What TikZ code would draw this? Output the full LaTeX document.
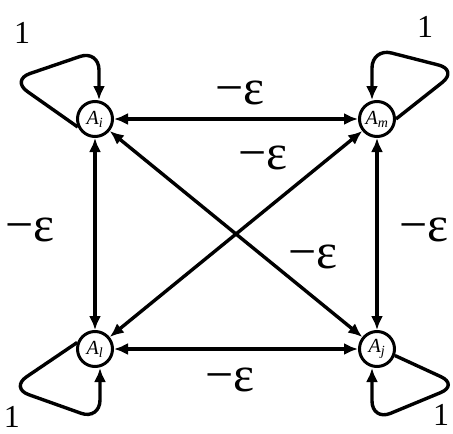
\documentclass[tikz,border=0pt]{standalone}
\usepackage{fontspec}
\setmainfont{Liberation Serif}
\usetikzlibrary{arrows.meta, positioning, calc}

\newcommand{\stat}[1]{\textit{A}\textsubscript{\textit{#1}}}

\begin{document}
\begin{tikzpicture}[
    x=1pt, y=-1pt,
    stato/.style={circle, draw, line width=3pt, fill=white,
                  inner sep=0pt, minimum size=35pt, font=\fontsize{20}{20}\selectfont},
    arco/.style={line width=3.4pt, {Latex[length=14pt,width=12pt]}-{Latex[length=14pt,width=12pt]}},
    anello/.style={line width=3.4pt, rounded corners=20pt, -{Latex[length=14pt,width=12pt]}},
    peso/.style={font=\fontsize{50}{50}\selectfont, inner sep=0pt},
    uno/.style={font=\fontsize{32}{32}\selectfont, inner sep=0pt}
]
\useasboundingbox (0,0) rectangle (453,434);
% stati
\node[stato] (Ai) at (95,119) {\stat{i}};
\node[stato] (Am) at (377,119) {\stat{m}};
\node[stato] (Al) at (95,349) {\stat{l}};
\node[stato] (Aj) at (377,349) {\stat{j}};
% archi tra gli stati
\foreach \a/\b in {Ai/Am, Al/Aj, Ai/Al, Am/Aj, Ai/Aj, Am/Al}{
    \draw[arco] (\a) -- (\b);
}
% anelli
\coordinate (tl1) at (11,80);  \coordinate (tl2) at (99,50);
\coordinate (tr1) at (458,70); \coordinate (tr2) at (372,48);
\coordinate (bl1) at (10,388); \coordinate (bl2) at (100,420);
\coordinate (br1) at (459,385); \coordinate (br2) at (372,421);
\draw[anello] (Ai.205) -- (tl1) -- (tl2) -- (tl2 |- Ai.north);
\draw[anello] (Am.0) -- (tr1) -- (tr2) -- (tr2 |- Am.north);
\draw[anello] (Al.160) -- (bl1) -- (bl2) -- (bl2 |- Al.south);
\draw[anello] (Aj.340) -- (br1) -- (br2) -- (br2 |- Aj.south);
% pesi
\node[peso] (ptop) at (240,93) {−ε};
\node[peso] (pbot) at (230,380) {−ε};
\node[peso] (psx) at (30,230) {−ε};
\node[peso] (pdx) at (424,230) {−ε};
\node[peso] (pd1) at (263,158) {−ε};
\node[peso] (pd2) at (313,257) {−ε};
\node[uno] (u1) at (22,33) {1};
\node[uno] (u2) at (425,27) {1};
\node[uno] (u3) at (12,417) {1};
\node[uno] (u4) at (441,415) {1};
\end{tikzpicture}
\end{document}
